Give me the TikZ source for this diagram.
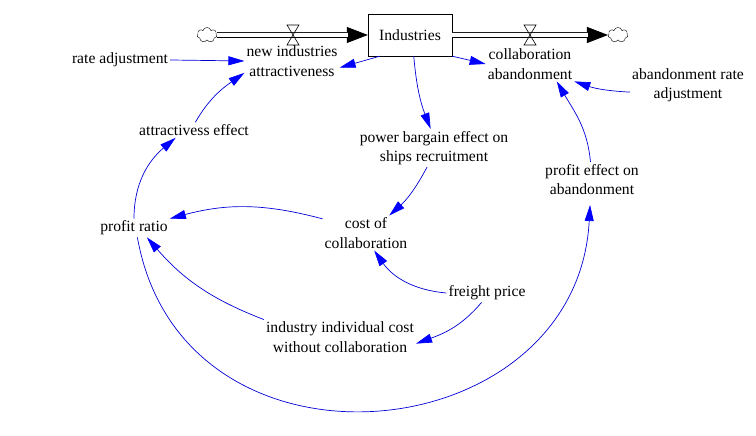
\documentclass[tikz,border=0pt]{standalone}
\usepackage{fontspec}
\setmainfont{Liberation Serif}
\newfontfamily\vensimfont{Liberation Serif}
\usetikzlibrary{arrows.meta,shapes.symbols}
\definecolor{linkblue}{RGB}{0,0,215}
\begin{document}
\begin{tikzpicture}[x=1bp,y=1bp,
  font=\vensimfont\fontsize{15.7}{19.5}\selectfont,
  var/.style={align=center,inner sep=2bp},
  stock/.style={draw,minimum width=84bp,minimum height=42bp,inner sep=0pt},
  sky/.style={cloud,cloud puffs=7,cloud ignores aspect,draw,minimum width=20bp,minimum height=15bp,inner sep=0pt},
  link/.style={draw=linkblue,line width=0.7bp,-{Triangle[length=16bp,width=9bp,color=blue]}},
  pipe/.style={double,double distance=4bp,line width=0.8bp,shorten >=20bp},
  pipetip/.style={line width=0.8bp,-{Triangle[length=21bp,width=16bp]}}]
  \useasboundingbox (0,0) rectangle (756,436);
  \node[sky] (src) at (207,401) {};
  \node[stock] (ind) at (410,401) {Industries};
  \node[sky] (snk) at (618,401) {};
  \node[var] (nia) at (292,375) {new industries\\attractiveness};
  \node[var] (ca) at (530,372) {collaboration\\abandonment};
  \node[var] (ra) at (120,376) {rate adjustment};
  \node[var] (ara) at (688,351) {abandonment rate\\adjustment};
  \node[var] (ae) at (194,306) {attractivess effect};
  \node[var] (pb) at (434,288) {power bargain effect on\\ships recruitment};
  \node[var] (pe) at (592,256.5) {profit effect on\\abandonment};
  \node[var] (pr) at (134,208) {profit ratio};
  \node[var] (cc) at (366,203) {cost of\\collaboration};
  \node[var] (fp) at (487,143) {freight price};
  \node[var] (ic) at (340,99) {industry individual cost\\without collaboration};

  \draw[pipetip] (src) -- (ind);
  \draw[pipe] (src) -- (ind);
  \draw[pipetip] (ind) -- (snk);
  \draw[pipe] (ind) -- (snk);
  \foreach \vx in {293,530}
    \draw[line width=0.6bp] (\vx-6,411) -- (\vx+6,411) -- (\vx-6,391) -- (\vx+6,391) -- cycle;

  \draw[link] (ra.east) -- (nia.west);
  \draw[link] (ind.215) -- (nia.-8);
  \draw[link] (ind.south east) -- (ca.west);
  \draw[link] (ind.-80) to[bend right=8] (pb.100);
  \draw[link] (pb.-110) to[bend left=10] (cc.37);
  \draw[link] (cc.162) to[out=165,in=15] (pr.north east);
  \draw[link] (fp.west) to[out=175,in=-55] (cc.-65);
  \draw[link] (fp.-120) to[out=-130,in=20] (ic.-5);
  \draw[link] (ic.north west) to[bend left=14] (pr.-36);
  \draw[link] (pr.north) to[out=90,in=-140] (ae.-157);
  \draw[link] (ae.80) to[out=60,in=-145] (nia.194);
  \draw[link,shorten >=8bp] (pr.-70) .. controls +(-80:258) and +(-93:256) .. (pe.-95);
  \draw[link] (pe.95) to[out=95,in=-60] (ca.-33);
  \draw[link] (ara.-173) to[bend left=8] (ca.south east);
\end{tikzpicture}
\end{document}
